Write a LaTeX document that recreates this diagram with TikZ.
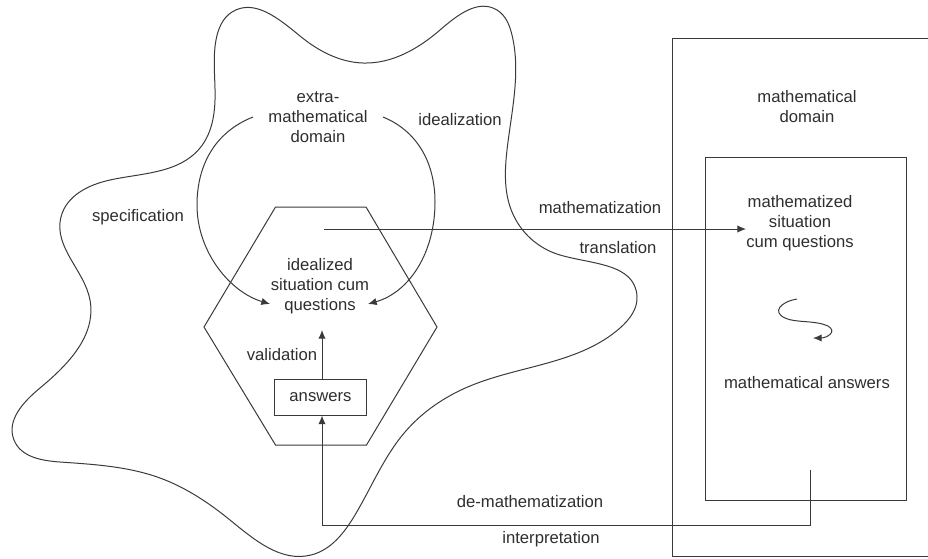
\documentclass[tikz,border=0pt]{standalone}
\usepackage{fontspec}
\setmainfont{Liberation Sans}
\usetikzlibrary{arrows.meta,hobby}
\definecolor{ink}{HTML}{2E2E2E}
\definecolor{linec}{HTML}{3A3A3A}
\begin{document}
\begin{tikzpicture}[x=0.75pt,y=-0.75pt,
  txt/.style={text=ink,font=\fontsize{12.5pt}{15pt}\selectfont,align=center,inner sep=0pt},
  ln/.style={draw=linec,line width=0.75pt},
  arr/.style={ln,-{Latex[length=6.5pt,width=5.5pt]}},
  box/.style={ln,minimum width=69.5pt,minimum height=27pt,inner sep=0pt,text=ink,font=\fontsize{12.5pt}{15pt}\selectfont}]
\useasboundingbox (0,0) rectangle (928,558);
\begin{scope}
\clip (0,0) rectangle (928,558);
% outer and inner rectangles of the mathematical domain
\draw[ln] (672,38) rectangle (940,556.5);
\draw[ln] (705.5,157) rectangle (906.5,500);
% blob (extra-mathematical domain)
\draw[ln,use Hobby shortcut,closed=true]
 (215,100) .. (216,40) .. (232,12) .. (300,36) .. (363,63) .. (440,30)
 .. (497,10) .. (512,35) .. (507,150) .. (512,212) .. (560,255)
 .. (637,296) .. (620,328) .. (470,386) .. (405,432) .. (355,515)
 .. (311,555) .. (230,520) .. (160,478) .. (60,462) .. (14,440)
 .. (40,388) .. (90,300) .. (61,217) .. (110,180) .. (200,148);
\end{scope}
% hexagon
\draw[ln] (275.5,207) -- (366,207) -- (437,327) -- (366.5,445) -- (275.5,445) -- (204,327) -- cycle;
% texts
\node[txt] (extra) at (318,117) {extra-\\mathematical\\domain};
\node[txt] (ideal) at (320,286) {idealized\\situation cum\\questions};
\node[txt] (spec) at (138,217) {specification};
\node[txt] (idz) at (460,120) {idealization};
\node[txt] (mathz) at (600,208) {mathematization};
\node[txt] (transl) at (618,248) {translation};
\node[txt] (mdom) at (807,107) {mathematical\\domain};
\node[txt] (mq) at (800,223) {mathematized\\situation\\cum questions};
\node[txt] (mans) at (807,383) {mathematical answers};
\node[txt] (demath) at (530,502) {de-mathematization};
\node[txt] (interp) at (551,539) {interpretation};
\node[txt] (valid) at (282,355) {validation};
\node[box,draw] (ans) at (320.5,397) {answers};
% coordinates
\coordinate (lt) at (270,304);
\coordinate (rt) at (368,304);
\coordinate (mstart) at (324,229);
\coordinate (vend) at (322,330);
\coordinate (dstart) at (810,470);
% arcs idealization / specification
\draw[arr] (253,117) .. controls (215,132) and (197,165) .. (197,205)
  .. controls (197,252) and (230,292) .. (lt);
\draw[arr] (383,117) .. controls (415,130) and (435,160) .. (435,202)
  .. controls (435,252) and (410,292) .. (rt);
% mathematization
\draw[arr] (mstart) -- (mstart -| mq.west);
% validation
\draw[arr] (ans.north -| vend) -- (vend);
% de-mathematization
\draw[arr] (dstart) -- ++(0,55) -| (ans.south -| vend);
% squiggle
\draw[arr] (797,299) .. controls (780,302) and (772,312) .. (785,318)
  .. controls (795,323) and (815,320) .. (828,326)
  .. controls (838,332) and (826,338) .. (813,338);
\end{tikzpicture}
\end{document}
